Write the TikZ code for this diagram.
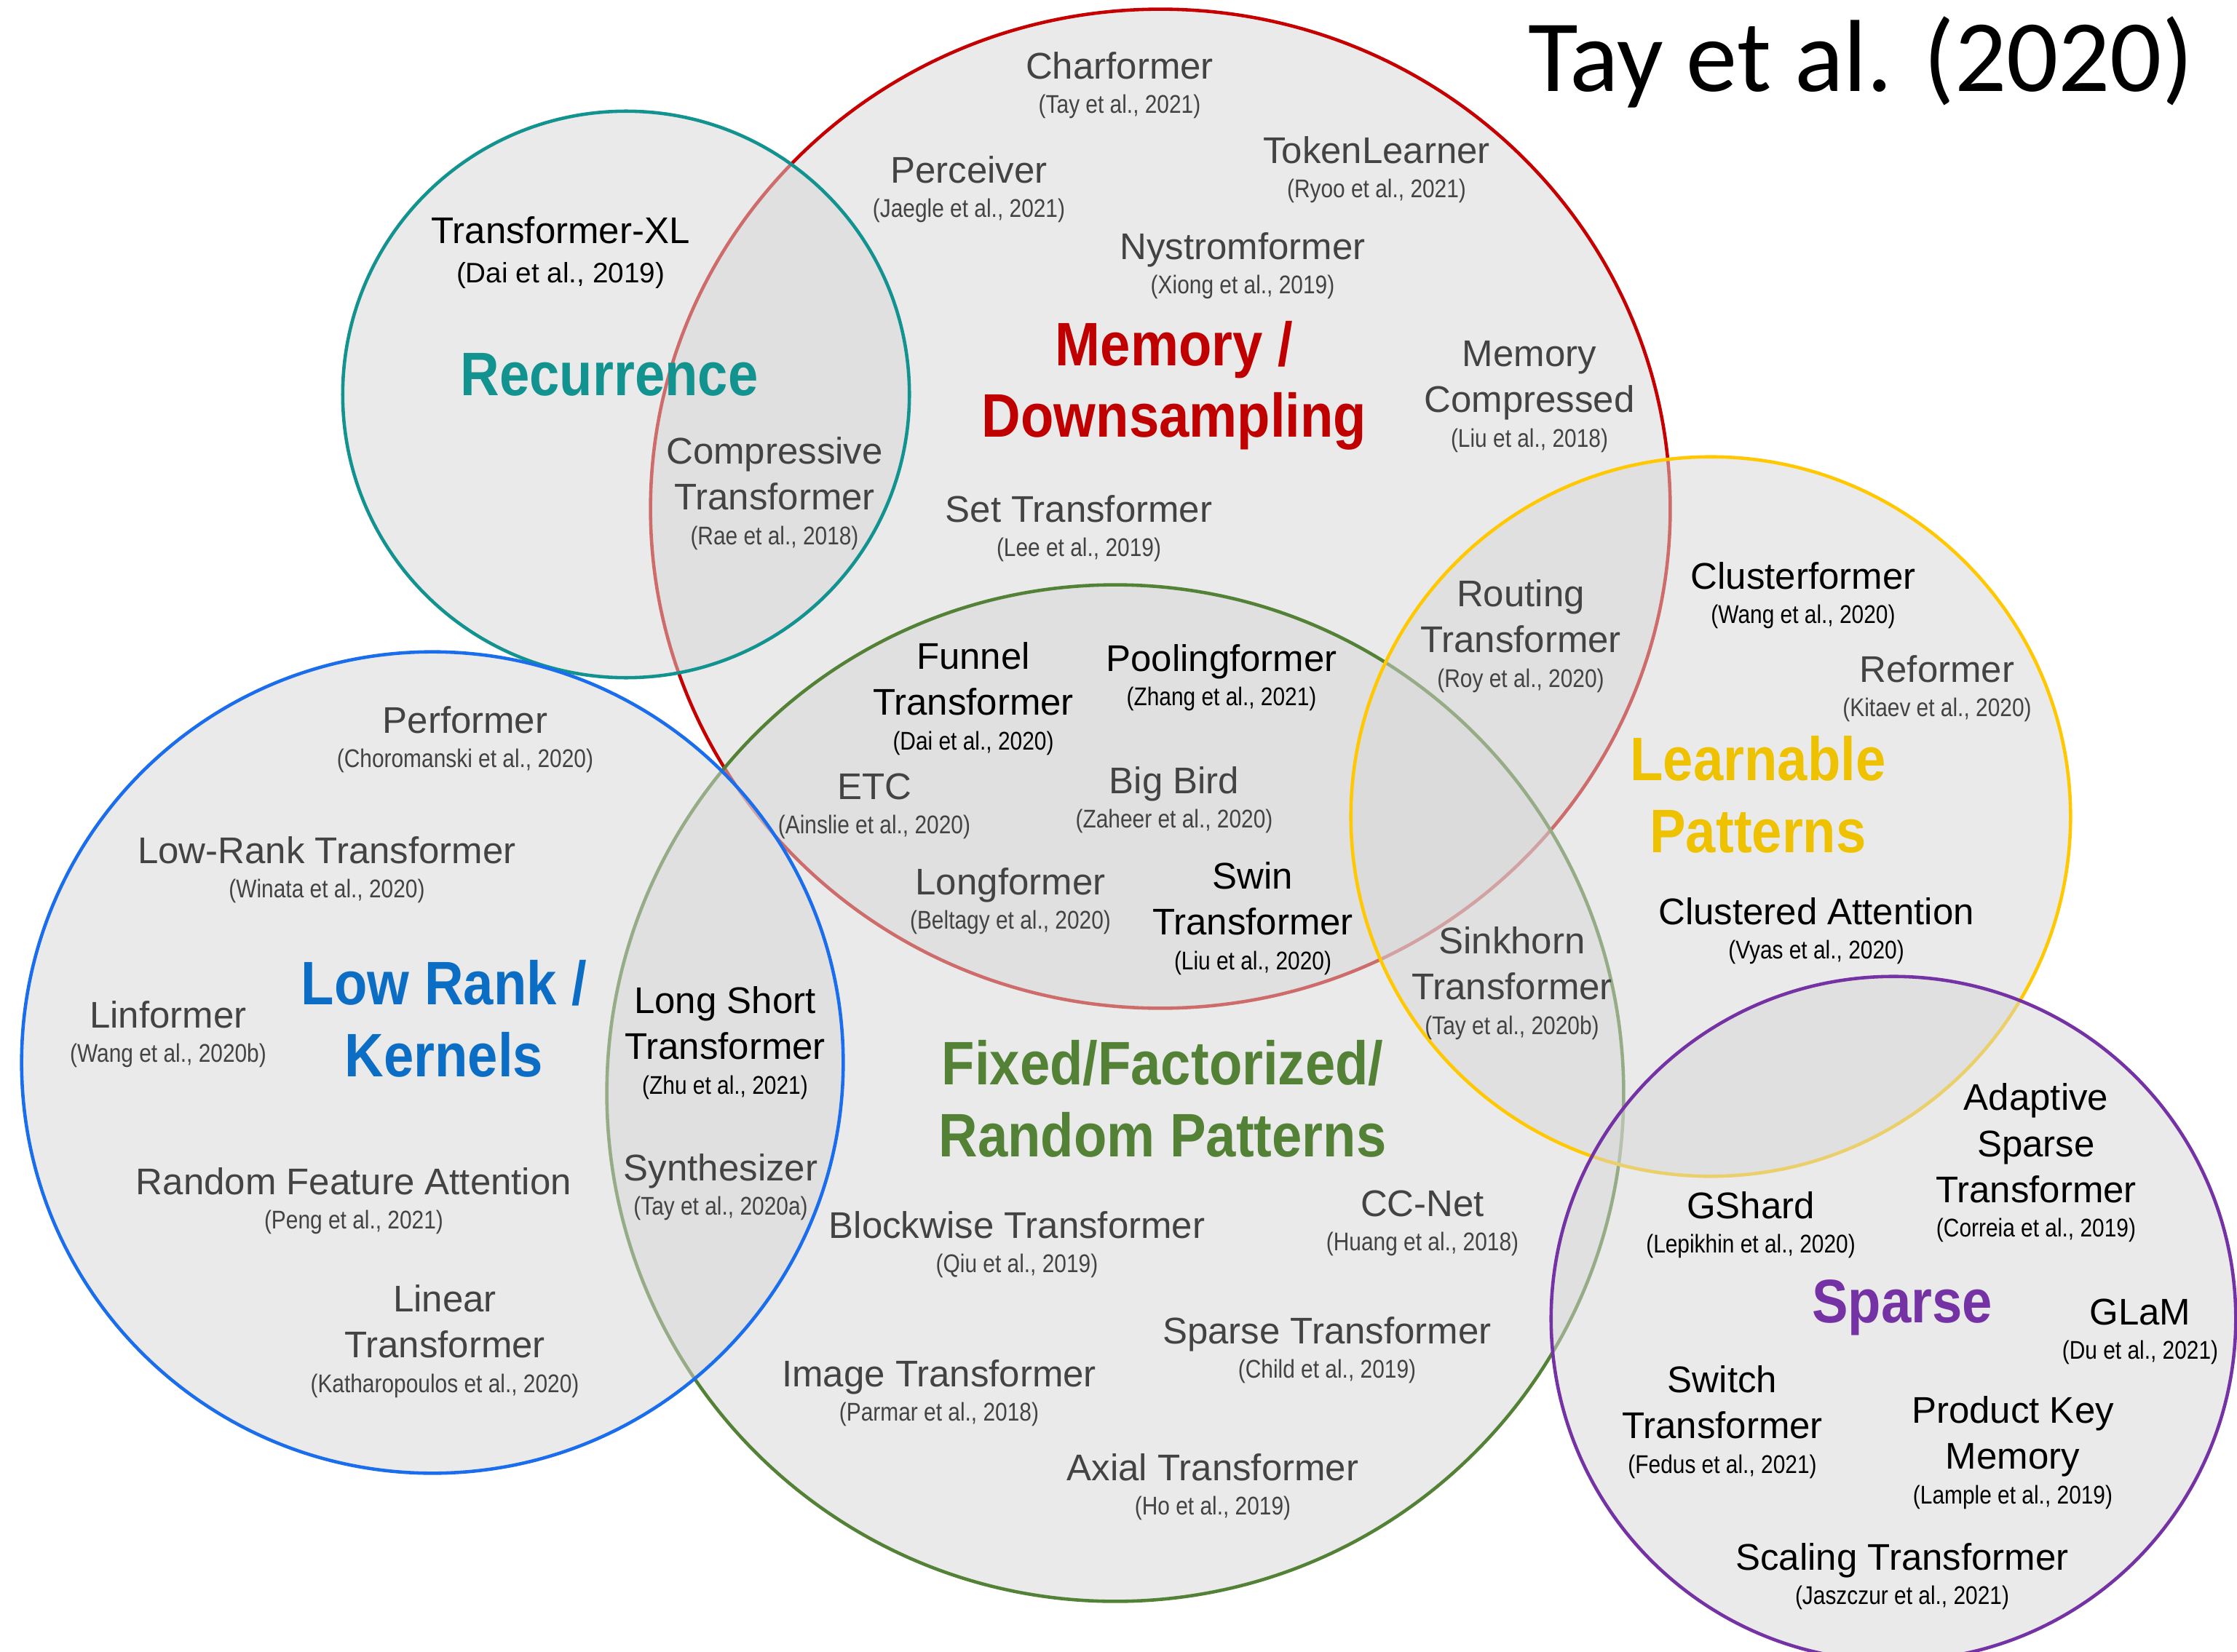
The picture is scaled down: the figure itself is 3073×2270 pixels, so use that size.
\documentclass[tikz,border=0pt]{standalone}
\usepackage{fontspec}
\setmainfont{Liberation Sans}
\newfontfamily\citefont[FakeStretch=0.85]{Liberation Sans}
\newfontfamily\grpfont[FakeStretch=0.88]{Liberation Sans}
\newfontfamily\ttlfont{Carlito}
\usetikzlibrary{positioning}
\definecolor{recteal}{HTML}{12938F}
\definecolor{memred}{HTML}{C00000}
\definecolor{lowblue}{HTML}{1A6EEE}
\definecolor{lowtxt}{HTML}{0B6DC4}
\definecolor{fixgreen}{HTML}{538135}
\definecolor{lrnyellow}{HTML}{FFC800}
\definecolor{lrntxt}{HTML}{EEC200}
\definecolor{sprpurple}{HTML}{7432A4}
\definecolor{grpfill}{HTML}{D7D7D7}
\definecolor{txtgray}{HTML}{434343}
\tikzset{
  grp/.style={line width=1.3pt,fill=grpfill,fill opacity=0.5},
  grplbl/.style={font=\grpfont\bfseries\fontsize{24}{28}\selectfont,
                 align=center,inner sep=0pt},
  mdl/.style={align=center,inner sep=0pt,text=txtgray,
              font=\fontsize{14.5}{18}\selectfont},
  mdlk/.style={mdl,text=black},
}
\newcommand\mdltxt[2]{#1\\[-4.6pt]{\citefont\fontsize{10}{12}\selectfont #2}}

\begin{document}
\begin{tikzpicture}[x=0.01cm,y=-0.01cm]
  \fill[white] (0,0) rectangle (3073,2270);
  \useasboundingbox (0,0) rectangle (3073,2270);

  % the six groups
  \coordinate (memc) at (1594,699);
  \coordinate (recc) at (860,542);
  \coordinate (fixc) at (1532,1502);
  \coordinate (lowc) at (594,1460);
  \coordinate (lrnc) at (2350,1122);
  \coordinate (sprc) at (2601,1812);
  \draw[grp,draw=memred!90!red] (memc) ellipse [x radius=7.00cm,y radius=6.86cm];
  \draw[grp,draw=recteal] (recc) circle [radius=3.89cm];
  \draw[grp,draw=fixgreen] (fixc) circle [radius=6.98cm];
  \draw[grp,draw=lowblue] (lowc) circle [radius=5.64cm];
  \draw[grp,draw=lrnyellow] (lrnc) circle [radius=4.94cm];
  \draw[grp,draw=sprpurple] (sprc) circle [radius=4.70cm];

  % group labels
  \node[grplbl,text=recteal] (reclbl) at (837,515) {Recurrence};
  \node[grplbl,text=memred] (memlbl) at (1613,530) {Memory /\\Downsampling};
  \node[grplbl,text=lowtxt] (lowlbl) at (610,1400) {Low Rank /\\Kernels};
  \node[grplbl,text=fixgreen] (fixlbl) at (1597,1510) {Fixed/Factorized/\\Random Patterns};
  \node[grplbl,text=lrntxt] (lrnlbl) at (2415,1092) {Learnable\\Patterns};
  \node[grplbl,text=sprpurple] (sprlbl) at (2613,1797) {Sparse};

  \node[font=\ttlfont\fontsize{40}{48}\selectfont,anchor=base,inner sep=0pt]
       (ttl) at (2556,126) {Tay et al. (2020)};

  % memory / downsampling
  \node[mdl] (charf) at (1538,117) {\mdltxt{Charformer}{(Tay et al., 2021)}};
  \node[mdl] (perc) at (1331,260) {\mdltxt{Perceiver}{(Jaegle et al., 2021)}};
  \node[mdl] (tokl) at (1891,233) {\mdltxt{TokenLearner}{(Ryoo et al., 2021)}};
  \node[mdl] (nystr) at (1707,365) {\mdltxt{Nystromformer}{(Xiong et al., 2019)}};
  \node[mdl] (memcmp) at (2101,545) {\mdltxt{Memory\\Compressed}{(Liu et al., 2018)}};
  \node[mdl] (sett) at (1482,726) {\mdltxt{Set Transformer}{(Lee et al., 2019)}};
  \node[mdl] (cmprs) at (1064,678) {\mdltxt{Compressive\\Transformer}{(Rae et al., 2018)}};
  \node[mdlk] (txl) at (770,347)
       {Transformer-XL\\[-2.4pt]{\fontsize{11}{13}\selectfont (Dai et al., 2019)}};
  \node[mdl] (routt) at (2089,874) {\mdltxt{Routing\\Transformer}{(Roy et al., 2020)}};
  \node[mdlk] (funnel) at (1337,960) {\mdltxt{Funnel\\Transformer}{(Dai et al., 2020)}};
  \node[mdlk] (poolf) at (1678,931) {\mdltxt{Poolingformer}{(Zhang et al., 2021)}};
  \node[mdl] (etc) at (1201,1108) {\mdltxt{ETC}{(Ainslie et al., 2020)}};
  \node[mdl] (bigb) at (1613,1099) {\mdltxt{Big Bird}{(Zaheer et al., 2020)}};
  \node[mdl] (longf) at (1388,1238) {\mdltxt{Longformer}{(Beltagy et al., 2020)}};
  \node[mdlk] (swin) at (1721,1262) {\mdltxt{Swin\\Transformer}{(Liu et al., 2020)}};

  % learnable patterns
  \node[mdlk] (clstf) at (2477,818) {\mdltxt{Clusterformer}{(Wang et al., 2020)}};
  \node[mdl] (reform) at (2661,946) {\mdltxt{Reformer}{(Kitaev et al., 2020)}};
  \node[mdlk] (clsta) at (2495,1279) {\mdltxt{Clustered Attention}{(Vyas et al., 2020)}};
  \node[mdl] (sinkh) at (2077,1351) {\mdltxt{Sinkhorn\\Transformer}{(Tay et al., 2020b)}};

  % low rank / kernels
  \node[mdl] (perf) at (639,1016) {\mdltxt{Performer}{(Choromanski et al., 2020)}};
  \node[mdl] (lowrk) at (449,1195) {\mdltxt{Low-Rank Transformer}{(Winata et al., 2020)}};
  \node[mdl] (linf) at (231,1421) {\mdltxt{Linformer}{(Wang et al., 2020b)}};
  \node[mdl] (rfa) at (486,1650) {\mdltxt{Random Feature Attention}{(Peng et al., 2021)}};
  \node[mdl] (lint) at (611,1843) {\mdltxt{Linear\\Transformer}{(Katharopoulos et al., 2020)}};
  \node[mdlk] (lsht) at (996,1433) {\mdltxt{Long Short\\Transformer}{(Zhu et al., 2021)}};
  \node[mdl] (synth) at (990,1631) {\mdltxt{Synthesizer}{(Tay et al., 2020a)}};

  % fixed / factorized / random patterns
  \node[mdl] (blkw) at (1397,1710) {\mdltxt{Blockwise Transformer}{(Qiu et al., 2019)}};
  \node[mdl] (ccnet) at (1954,1681) {\mdltxt{CC-Net}{(Huang et al., 2018)}};
  \node[mdl] (sprst) at (1823,1855) {\mdltxt{Sparse Transformer}{(Child et al., 2019)}};
  \node[mdl] (imgt) at (1290,1914) {\mdltxt{Image Transformer}{(Parmar et al., 2018)}};
  \node[mdl] (axial) at (1666,2043) {\mdltxt{Axial Transformer}{(Ho et al., 2019)}};

  % sparse
  \node[mdlk] (gshard) at (2405,1683) {\mdltxt{GShard}{(Lepikhin et al., 2020)}};
  \node[mdlk] (adapt) at (2797,1598) {\mdltxt{Adaptive\\Sparse\\Transformer}{(Correia et al., 2019)}};
  \node[mdlk] (glam) at (2940,1830) {\mdltxt{GLaM}{(Du et al., 2021)}};
  \node[mdlk] (switch) at (2366,1954) {\mdltxt{Switch\\Transformer}{(Fedus et al., 2021)}};
  \node[mdlk] (pkm) at (2765,1996) {\mdltxt{Product Key\\Memory}{(Lample et al., 2019)}};
  \node[mdlk] (scal) at (2613,2166) {\mdltxt{Scaling Transformer}{(Jaszczur et al., 2021)}};
\end{tikzpicture}
\end{document}
